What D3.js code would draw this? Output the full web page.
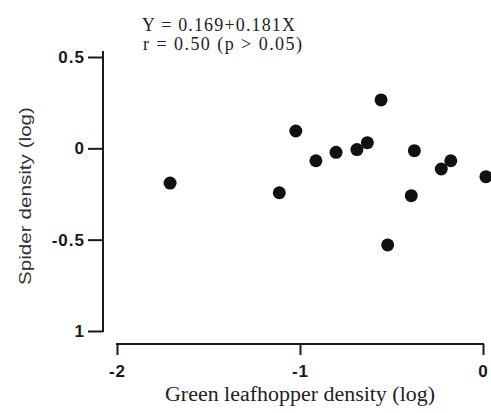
<!DOCTYPE html>
<html>
<head>
<meta charset="utf-8">
<script src="https://cdn.jsdelivr.net/npm/d3@7"></script>
<style>
  body { margin: 0; background: #fff; }
  svg { display: block; }
  .tick text { font-family: "Liberation Sans", Arial, sans-serif; font-weight: bold; font-size: 17px; fill: #1a1a1a; letter-spacing: 1px; }
</style>
</head>
<body>
<svg id="chart" width="491" height="413"></svg>
<script>
// leafhopper density (log) vs spider density (log), one dot per field
var leafhopper = [-1.71, -1.113, -1.023, -0.913, -0.803, -0.689, -0.632, -0.557, -0.521, -0.375, -0.392, -0.228, -0.176, 0.016];
var spider     = [-0.19, -0.243, 0.095, -0.068, -0.022, -0.007, 0.031, 0.265, -0.529, -0.013, -0.259, -0.113, -0.068, -0.155];

var xTicks = [-2, -1, 0];
var xTickLabels = ['-2', '-1', '0'];
var yTicks = [0.5, 0, -0.5, -1];
var yTickLabels = ['0.5', '0', '-0.5', '1'];   // printed as "1" in the original

var eqLine1 = 'Y = 0.169+0.181X';
var eqLine2 = 'r  = 0.50  (p > 0.05)';
var xTitle = 'Green leafhopper density  (log)';
var yTitle = 'Spider density  (log)';

var svg = d3.select('#chart');
var ink = '#1a1a1a';

var x = d3.scaleLinear().domain([-2, 0]).range([117, 483]);
var y = d3.scaleLinear().domain([0.5, -1]).range([57, 331]);

// x axis
var xAxis = d3.axisBottom(x)
  .tickValues(xTicks)
  .tickSize(11)
  .tickSizeOuter(0)
  .tickPadding(10)
  .tickFormat(function(d, i) { return xTickLabels[i]; });

var gx = svg.append('g').attr('transform', 'translate(0,344)').call(xAxis);
gx.select('.domain').remove();
gx.selectAll('.tick line').attr('stroke', ink).attr('stroke-width', 2);
svg.append('line')
  .attr('x1', x(-2) - 1).attr('x2', x(0) + 1)
  .attr('y1', 344).attr('y2', 344)
  .attr('stroke', ink).attr('stroke-width', 2);

// y axis
var yAxis = d3.axisLeft(y)
  .tickValues(yTicks)
  .tickSize(15)
  .tickSizeOuter(0)
  .tickPadding(3)
  .tickFormat(function(d, i) { return yTickLabels[i]; });

var gy = svg.append('g').attr('transform', 'translate(103,0)').call(yAxis);
gy.select('.domain').remove();
gy.selectAll('.tick line').attr('stroke', ink).attr('stroke-width', 2);
svg.append('line')
  .attr('x1', 103).attr('x2', 103)
  .attr('y1', y(0.5) - 6).attr('y2', y(-1) + 1)
  .attr('stroke', ink).attr('stroke-width', 2);

// points
svg.append('g').selectAll('circle')
  .data(leafhopper)
  .enter()
  .append('circle')
  .attr('cx', function(d) { return x(d); })
  .attr('cy', function(d, i) { return y(spider[i]); })
  .attr('r', 6.5)
  .attr('fill', '#111');

// regression text
svg.append('text')
  .attr('x', 142).attr('y', 31)
  .attr('textLength', 153).attr('lengthAdjust', 'spacing')
  .style('font-family', '"Liberation Serif", "Times New Roman", serif')
  .style('font-size', '18px').style('fill', '#222')
  .text(eqLine1);
svg.append('text')
  .attr('x', 143).attr('y', 50)
  .attr('textLength', 159).attr('lengthAdjust', 'spacing')
  .style('font-family', '"Liberation Serif", "Times New Roman", serif')
  .style('font-size', '18px').style('fill', '#222')
  .text(eqLine2);

// axis titles
svg.append('text')
  .attr('x', 165).attr('y', 401)
  .attr('textLength', 270).attr('lengthAdjust', 'spacingAndGlyphs')
  .style('font-family', '"Liberation Serif", "Times New Roman", serif')
  .style('font-size', '20px').style('fill', '#222')
  .text(xTitle);

svg.append('text')
  .attr('transform', 'translate(31,285) rotate(-90)')
  .attr('textLength', 178).attr('lengthAdjust', 'spacingAndGlyphs')
  .style('font-family', '"Liberation Sans", Arial, sans-serif')
  .style('font-size', '17px').style('fill', '#333')
  .text(yTitle);
</script>
</body>
</html>
